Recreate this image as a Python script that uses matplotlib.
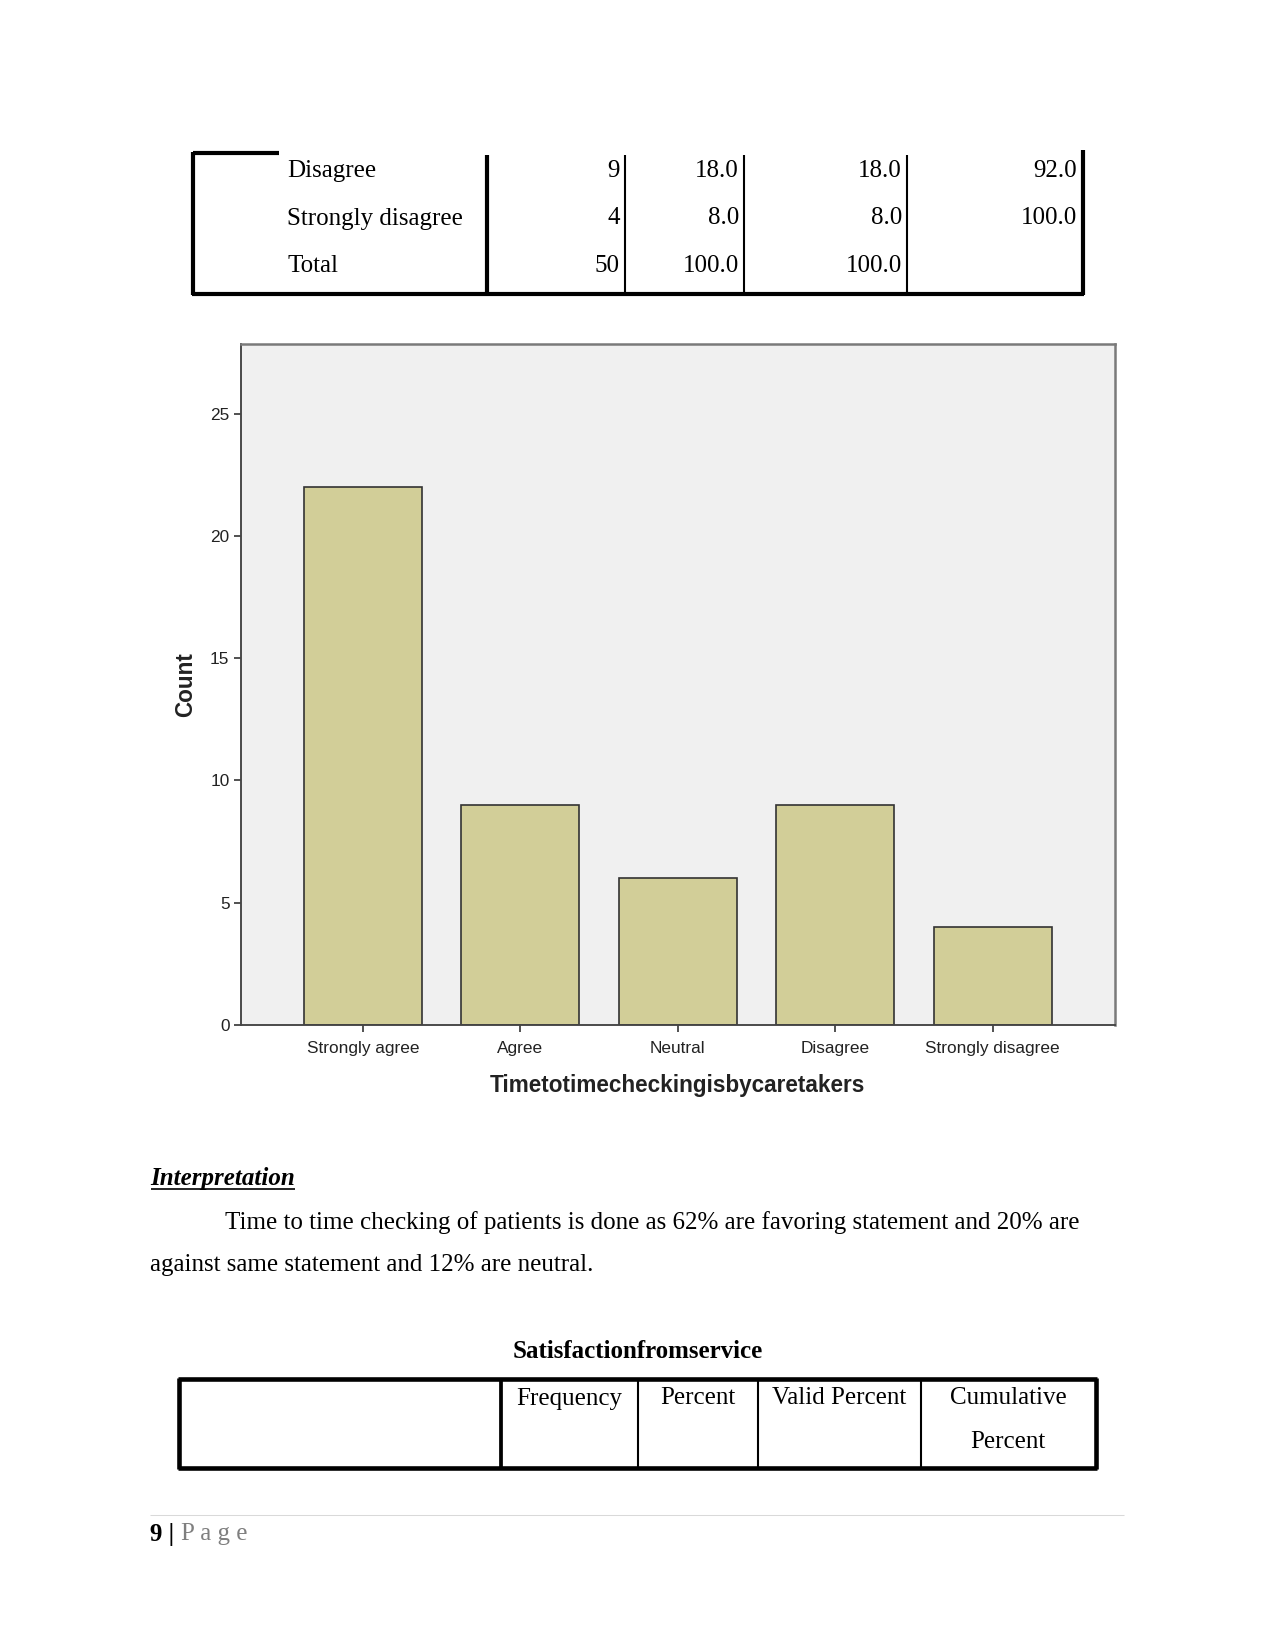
import matplotlib
matplotlib.use("Agg")
import matplotlib.pyplot as plt

# bar chart data
categories = ["Strongly agree", "Agree", "Neutral", "Disagree", "Strongly disagree"]
counts = [22, 9, 6, 9, 4]
y_ticks = [0, 5, 10, 15, 20, 25]

# tail of the previous frequency table
top_labels = ["Disagree", "Strongly disagree", "Total"]
top_freq = ["9", "4", "50"]
top_pct = ["18.0", "8.0", "100.0"]
top_valid = ["18.0", "8.0", "100.0"]
top_cum = ["92.0", "100.0", ""]

# header of the next table
next_title = "Satisfactionfromservice"
next_headers = ["Frequency", "Percent", "Valid Percent", "Cumulative\n\nPercent"]

para1 = "Time to time checking of patients is done as 62% are favoring statement and 20% are"
para2 = "against same statement and 12% are neutral."

W, H = 1275, 1650
fig = plt.figure(figsize=(8.5, 11), dpi=150)
fig.patch.set_facecolor("white")

# page overlay in pixel coordinates
pg = fig.add_axes([0, 0, 1, 1])
pg.set_xlim(0, W)
pg.set_ylim(H, 0)
pg.axis("off")

serif = "Liberation Serif"
sans = "Liberation Sans"
dy = 2.5  # nudge for serif text baseline

def line(x0, y0, x1, y1, lw=1.0, color="black"):
    pg.plot([x0, x1], [y0, y1], color=color, lw=lw, solid_capstyle="butt")

# ---- top table (continuation) ----
thick, thin = 2.0, 1.0
line(192.5, 152.5, 279, 152.5, thick)
line(192.5, 151.5, 192.5, 294.5, thick)
line(191.5, 293.5, 1083.5, 293.5, thick)
line(1082.5, 150, 1082.5, 294.5, thick)
line(487, 154.5, 487, 294.5, thick)
for xv in [624.5, 744, 907]:
    line(xv, 154.5, xv, 294.5, thin)

row_y = [168.5, 216, 263]
for i, y in enumerate(row_y):
    y = y + dy
    pg.text(287, y, top_labels[i], family=serif, fontsize=12, va="center", ha="left")
    pg.text(619.5, y, top_freq[i], family=serif, fontsize=12, va="center", ha="right")
    pg.text(739, y, top_pct[i], family=serif, fontsize=12, va="center", ha="right")
    pg.text(902, y, top_valid[i], family=serif, fontsize=12, va="center", ha="right")
    pg.text(1077, y, top_cum[i], family=serif, fontsize=12, va="center", ha="right")

# ---- bar chart ----
ax = fig.add_axes([240.7 / W, 1 - 1025 / H, 874 / W, 680.7 / H])
ax.set_facecolor("#f0f0f0")
x = range(len(categories))
ax.bar(x, counts, width=0.75, color="#d2ce98", edgecolor="#333333", linewidth=0.8)
ax.set_xlim(-0.776, 4.776)
ax.set_ylim(0, 27.83)
ax.set_yticks(y_ticks)
ax.set_xticks(list(x))
ax.set_xticklabels(categories)
for lab in ax.get_xticklabels() + ax.get_yticklabels():
    lab.set_family(sans)
    lab.set_fontsize(8.3)
    lab.set_color("#222222")
ax.tick_params(axis="both", direction="out", length=3.4, width=0.8, color="#333333")
ax.tick_params(axis="x", pad=4.4)
ax.tick_params(axis="y", pad=2)
for s in ["left", "bottom"]:
    ax.spines[s].set_color("#444444")
    ax.spines[s].set_linewidth(0.9)
for s in ["top", "right"]:
    ax.spines[s].set_color("#7a7a7a")
    ax.spines[s].set_linewidth(1.2)
ax.set_xlabel("Timetotimecheckingisbycaretakers", family=sans, fontsize=10.8,
              fontweight="bold", color="#222222", labelpad=8.5)
ax.set_ylabel("Count", family=sans, fontsize=10.8, fontweight="bold", color="#222222",
              labelpad=6)

# ---- interpretation ----
t = pg.text(150.5, 1176 + dy, "Interpretation", family=serif, fontsize=12, fontweight="bold",
            fontstyle="italic", va="center", ha="left")
pg.text(225, 1220 + dy, para1, family=serif, fontsize=12, va="center", ha="left")
pg.text(150.5, 1262 + dy, para2, family=serif, fontsize=12, va="center", ha="left")

# ---- next table header ----
pg.text(637.5, 1349 + dy, next_title, family=serif, fontsize=12, fontweight="bold",
        va="center", ha="center")
line(177.8, 1379, 1097, 1379, 2.2)
line(177.8, 1468, 1097, 1468, 2.2)
line(179, 1378, 179, 1469, 2.2)
line(1096, 1378, 1096, 1469, 2.2)
line(501, 1378, 501, 1469, 1.8)
for xv in [637.5, 757.5, 920.5]:
    line(xv, 1378, xv, 1469, thin)
head_x = [569, 697.5, 839.5, 1008]
for hx, h in zip(head_x, next_headers):
    pg.text(hx, 1385 + dy, h, family=serif, fontsize=12, va="top", ha="center",
            linespacing=1.0)

# ---- footer ----
line(150, 1515, 1124, 1515, 0.5, color="#d9d9d9")
pg.text(150.5, 1533 + 1, "9 |", family=serif, fontsize=12, fontweight="bold",
        va="center", ha="left")
pg.text(181, 1533 + 1, "P a g e", family=serif, fontsize=12, color="#7f7f7f",
        va="center", ha="left")

# underline for the heading
fig.canvas.draw()
bb = t.get_window_extent(renderer=fig.canvas.get_renderer())
inv = pg.transData.inverted()
(x0, _), (x1, _) = inv.transform([(bb.x0, bb.y0), (bb.x1, bb.y0)])
line(x0, 1189, x1, 1189, 0.8)

fig.savefig("out.png", dpi=150)
